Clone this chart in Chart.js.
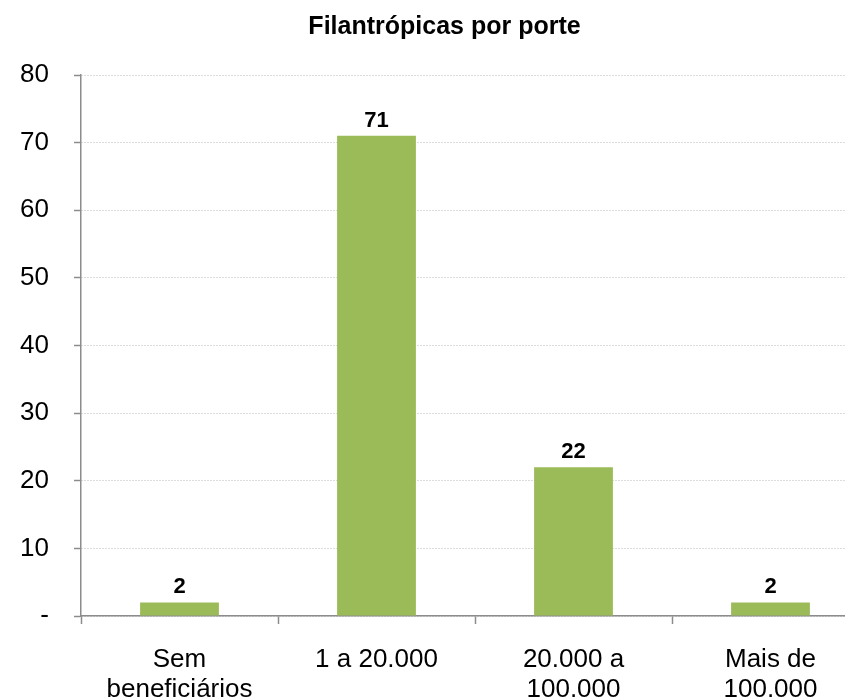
<!DOCTYPE html>
<html>
<head>
<meta charset="utf-8">
<script src="https://cdn.jsdelivr.net/npm/chart.js@4/dist/chart.umd.min.js"></script>
<style>
  html, body { margin: 0; padding: 0; background: #fff; overflow: hidden; }
  /* o gráfico original é cortado à direita, por isso a área é mais larga que a janela */
  #wrap { position: relative; width: 869px; height: 699px; }
</style>
</head>
<body>
<div id="wrap"><canvas id="chart1"></canvas></div>
<script>
// GRAF - Filantrópicas por porte
const categories = [
    ['Sem', 'beneficiários'],
    ['1 a 20.000'],
    ['20.000 a', '100.000'],
    ['Mais de', '100.000']
];
const counts = [2, 71, 22, 2];
const yTicks = [0, 10, 20, 30, 40, 50, 60, 70, 80];

const FONT = "'Liberation Sans', Arial, sans-serif";

// plugin simples para escrever o valor em cima de cada barra
const valueLabels = {
    id: 'valueLabels',
    afterDatasetsDraw(chart) {
        const { ctx } = chart;
        const meta = chart.getDatasetMeta(0);
        ctx.save();
        ctx.font = 'bold 22px ' + FONT;
        ctx.fillStyle = '#000';
        ctx.textAlign = 'center';
        ctx.textBaseline = 'alphabetic';
        meta.data.forEach((bar, i) => {
            ctx.fillText(chart.data.datasets[0].data[i], bar.x, bar.y - 9);
        });
        ctx.restore();
    }
};

const ctx = document.querySelector('#chart1');
if (ctx) {
new Chart(ctx, {
    type: 'bar',
    data: {
        labels: categories,
        datasets: [{
            label: 'Filantrópicas',
            data: counts,
            backgroundColor: '#9BBB59',
            borderWidth: 0,
            categoryPercentage: 1,
            barPercentage: 0.4
        }]
    },
    options: {
        responsive: true,
        maintainAspectRatio: false,
        animation: false,
        layout: {
            padding: { left: 20, right: 0, top: 0, bottom: 0 }
        },
        scales: {
            y: {
                min: 0,
                max: 80,
                afterBuildTicks: (scale) => {
                    scale.ticks = yTicks.map(v => ({ value: v }));
                },
                afterFit: (scale) => { scale.width = 61; },
                border: { display: true, color: '#8c8c8c', width: 1.5, dash: [1, 2] },
                grid: {
                    color: '#b8b8b8',
                    drawTicks: true,
                    tickLength: 7,
                    tickColor: '#8c8c8c',
                    tickWidth: 1.5,
                    tickBorderDash: []
                },
                ticks: {
                    color: '#000',
                    padding: 25,
                    font: { family: FONT, size: 26 },
                    callback: function(value) {
                        return value === 0 ? '-' : value;
                    }
                }
            },
            x: {
                // a segunda linha dos rótulos fica cortada em baixo, como no original
                afterFit: (scale) => { scale.height = 83; },
                border: { display: true, color: '#8c8c8c', width: 1.5 },
                grid: {
                    offset: true,
                    drawOnChartArea: false,
                    drawTicks: true,
                    tickLength: 8,
                    tickColor: '#8c8c8c',
                    tickWidth: 1.5
                },
                ticks: {
                    color: '#000',
                    padding: 21,
                    maxRotation: 0,
                    autoSkip: false,
                    font: { family: FONT, size: 26, lineHeight: 1.15 }
                }
            }
        },
        plugins: {
            legend: { display: false },
            tooltip: { enabled: false },
            title: {
                display: true,
                text: 'Filantrópicas por porte',
                color: '#000',
                font: { family: FONT, size: 25, weight: 'bold' },
                padding: { top: 12, bottom: 33 }
            }
        }
    },
    plugins: [valueLabels]
});
}
</script>
</body>
</html>
